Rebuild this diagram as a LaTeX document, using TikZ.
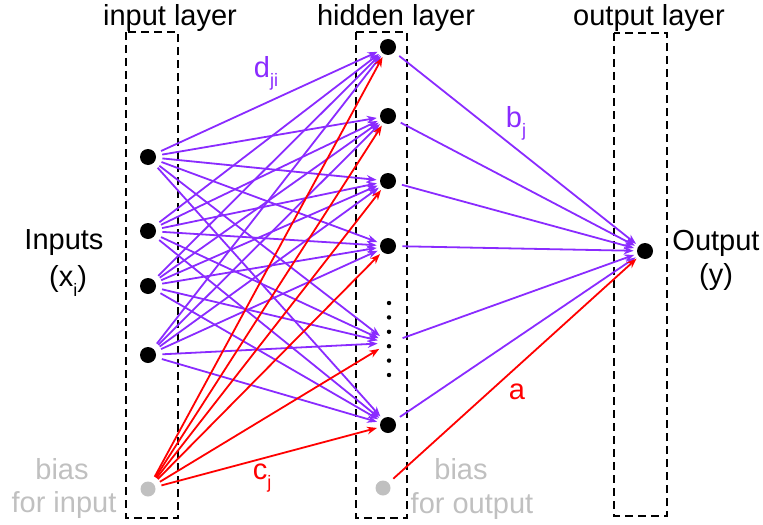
\documentclass[tikz,border=0pt]{standalone}
\usepackage{fontspec}
\setmainfont{Liberation Sans}
\usetikzlibrary{arrows.meta}
\definecolor{wire}{HTML}{8A2BFF}
\definecolor{biaswire}{HTML}{FF0000}
\definecolor{biasgrey}{HTML}{C0C0C0}
\newcommand{\idx}[1]{\raisebox{-0.6ex}{\fontsize{9}{9}\selectfont #1}}

\begin{document}
\begin{tikzpicture}[x=0.5pt, y=-0.5pt,
  neuron/.style={circle, fill=black, inner sep=0pt, minimum size=8pt},
  biasnode/.style={circle, fill=biasgrey, inner sep=0pt, minimum size=7.5pt},
  ghost/.style={circle, inner sep=0pt, minimum size=8pt},
  layerbox/.style={draw, line width=0.8pt, dash pattern=on 4pt off 2.5pt},
  lbl/.style={font=\fontsize{14.5}{17}\selectfont, inner sep=0pt},
  weight/.style={wire, line width=0.9pt, -{Stealth[length=5pt,width=3.8pt]}, shorten >=1.5pt, shorten <=3pt},
  biasweight/.style={weight, biaswire}]
  \useasboundingbox (0,0) rectangle (763,524);
  % layer boxes
  \draw[layerbox] (126,32) rectangle (178,518);
  \draw[layerbox] (356,32) rectangle (407,518);
  \draw[layerbox] (614,33) rectangle (667,516);
  \node[lbl] (tin)  at (170,18) {input layer};
  \node[lbl] (thid) at (396,18) {hidden layer};
  \node[lbl] (tout) at (649,18) {output layer};
  % input layer
  \node[neuron] (in1) at (148,157) {};
  \node[neuron] (in2) at (148,231) {};
  \node[neuron] (in3) at (148,286) {};
  \node[neuron] (in4) at (148,355) {};
  \node[biasnode] (bin) at (148,489) {};
  % hidden layer
  \node[neuron] (h1) at (388,47) {};
  \node[neuron] (h2) at (388,116) {};
  \node[neuron] (h3) at (388,181) {};
  \node[neuron] (h4) at (388,246) {};
  \node[ghost]  (h5) at (389,343) {};
  \node[neuron] (h6) at (388,425) {};
  \node[biasnode] (bout) at (383,488) {};
  \foreach \k in {0,...,5}
    \fill (389,303+14.4*\k) circle (1.1pt);
  % output layer
  \node[neuron] (out) at (645,251) {};
  % weights
  \foreach \i in {1,...,4}
    \foreach \j in {1,...,6}
      \draw[weight] (in\i) -- (h\j);
  \foreach \j in {1,...,6}
    \draw[weight] (h\j) -- (out);
  \foreach \j in {1,...,6}
    \draw[biasweight] (bin) -- (h\j);
  \draw[biasweight] (bout) -- (out);
  % labels
  \node[lbl, text=wire] (ld) at (266,73) {d\idx{ji}};
  \node[lbl, text=wire] (lb) at (516,123) {b\idx{j}};
  \node[lbl, text=biaswire] (lc) at (262,478) {c\idx{j}};
  \node[lbl, text=biaswire] (la) at (517,392) {a};
  \node[lbl] (tinp) at (64,243) {Inputs};
  \node[lbl] (tx)   at (68,281) {(x\idx{i})};
  \node[lbl] (ty)   at (716,243) {Output};
  \node[lbl] (tyy)  at (716,277) {(y)};
  \node[lbl, text=biasgrey] (tb1) at (62,469) {bias};
  \node[lbl, text=biasgrey] (tb2) at (64,505) {for input};
  \node[lbl, text=biasgrey] (tb3) at (461,469) {bias};
  \node[lbl, text=biasgrey] (tb4) at (472,506) {for output};
\end{tikzpicture}
\end{document}
